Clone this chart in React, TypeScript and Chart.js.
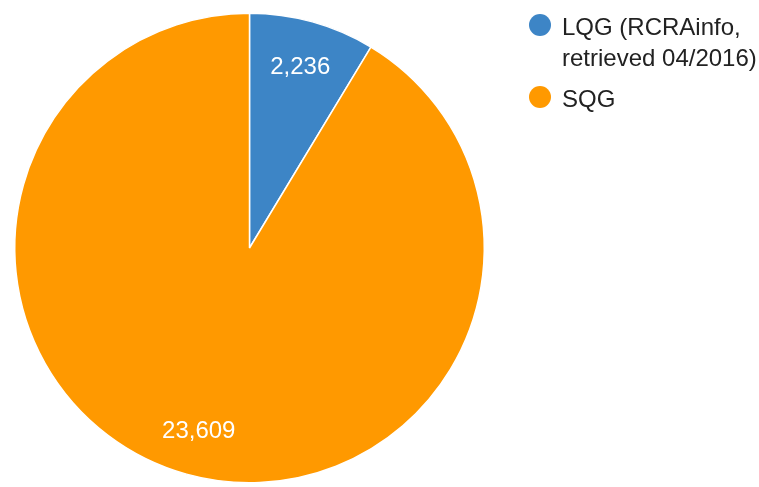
import React, { useEffect, useRef } from "react";
import { Chart, registerables } from "chart.js";

Chart.register(...registerables);

const categories: string[] = ["LQG (RCRAinfo, retrieved 04/2016)", "SQG"];
const values: number[] = [2236, 23609];
const colors: string[] = ["#3d85c6", "#ff9900"];

const FONT = '"Liberation Sans", Arial, sans-serif';

const sliceLabelPlugin = {
  id: "sliceLabels",
  afterDatasetsDraw(chart: any) {
    const ctx = chart.ctx;
    const meta = chart.getDatasetMeta(0);
    ctx.save();
    ctx.font = `24px ${FONT}`;
    ctx.fillStyle = "#ffffff";
    ctx.textAlign = "center";
    ctx.textBaseline = "middle";
    meta.data.forEach((arc: any, i: number) => {
      const p = arc.getProps(["x", "y", "startAngle", "endAngle", "outerRadius"], true);
      const mid = (p.startAngle + p.endAngle) / 2;
      const r = p.outerRadius * 0.805;
      const v = chart.data.datasets[0].data[i] as number;
      ctx.fillText(v.toLocaleString("en-US"), p.x + Math.cos(mid) * r, p.y + Math.sin(mid) * r + 1);
    });
    ctx.restore();
  },
};

const legendPlugin = {
  id: "customLegend",
  afterDraw(chart: any) {
    const ctx = chart.ctx;
    const x0 = 540;
    const textX = 562;
    const maxW = 197;
    const lineH = 31;
    const itemGap = 41;
    let baseline = 35;
    ctx.save();
    ctx.font = `24px ${FONT}`;
    ctx.textBaseline = "alphabetic";
    ctx.textAlign = "left";
    const labels = chart.data.labels as string[];
    const bg = chart.data.datasets[0].backgroundColor as string[];
    labels.forEach((label: string, i: number) => {
      const words = label.split(" ");
      const lines: string[] = [];
      let cur = "";
      words.forEach((w) => {
        const test = cur ? cur + " " + w : w;
        if (cur && ctx.measureText(test).width > maxW) {
          lines.push(cur);
          cur = w;
        } else cur = test;
      });
      if (cur) lines.push(cur);
      ctx.fillStyle = bg[i];
      ctx.beginPath();
      ctx.arc(x0, baseline - 10, 11, 0, Math.PI * 2);
      ctx.fill();
      ctx.fillStyle = "#222222";
      lines.forEach((ln, k) => {
        ctx.fillText(ln, textX, baseline + k * lineH);
      });
      baseline += (lines.length - 1) * lineH + itemGap;
    });
    ctx.restore();
  },
};

export default function App() {
  const ref = useRef<HTMLCanvasElement | null>(null);
  useEffect(() => {
    document.body.style.margin = "0";
    if (!ref.current) return;
    const chart = new Chart(ref.current, {
      type: "pie",
      data: {
        labels: categories,
        datasets: [
          {
            data: values,
            backgroundColor: colors,
            borderColor: "#ffffff",
            borderWidth: 1.5,
          },
        ],
      },
      options: {
        animation: false,
        responsive: false,
        maintainAspectRatio: false,
        layout: { padding: { left: 14, top: 12, right: 274, bottom: 3 } },
        plugins: {
          legend: { display: false },
          tooltip: { enabled: false },
        },
      },
      plugins: [sliceLabelPlugin, legendPlugin],
    });
    return () => chart.destroy();
  }, []);
  return (
    <div style={{ width: 759, height: 487, background: "#fff" }}>
      <canvas ref={ref} width={759} height={487} style={{ display: "block" }} />
    </div>
  );
}
